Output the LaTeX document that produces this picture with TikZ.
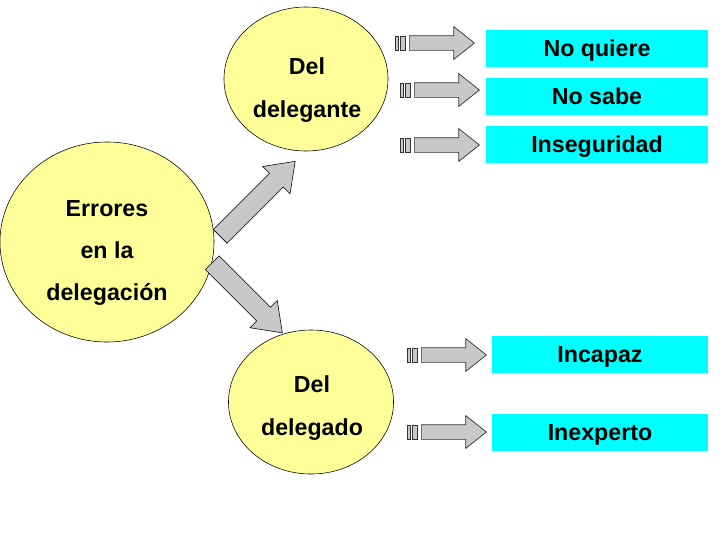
\documentclass[tikz,border=0pt]{standalone}
\usepackage{fontspec}
\setmainfont{Liberation Sans}
\usepackage{tikz}
\usetikzlibrary{positioning,shapes.geometric,shapes.arrows}
\definecolor{bubblefill}{HTML}{FFFF99}
\definecolor{reasonfill}{HTML}{00FFFF}
\definecolor{arrfill}{HTML}{C8C8C8}

\begin{document}
\begin{tikzpicture}[x=0.025cm, y=-0.025cm,
        bubble/.style={ellipse, draw=black, fill=bubblefill,
        line width=0.4pt, inner sep=0pt},
        bubbletext/.style={align=center, inner sep=0pt,
        font=\fontsize{16.5}{30}\selectfont\bfseries},
        reason/.style={rectangle, fill=reasonfill, minimum height=0.925cm,
          inner sep=0pt, text height=11.9pt, text depth=0pt,
        font=\fontsize{16.5}{19}\selectfont\bfseries},
        bigarr/.style={single arrow, draw=black, fill=arrfill,
          line width=0.4pt, inner xsep=0pt, inner ysep=0.2375cm,
          minimum width=0.95cm, single arrow head extend=0.2375cm,
        single arrow tip angle=72, anchor=tail},
        smallarr/.style={single arrow, draw=black!80, fill=arrfill,
          line width=0.5pt, inner xsep=0pt, inner ysep=0.175cm,
          minimum width=0.8cm, single arrow head extend=0.225cm,
        single arrow tip angle=77, minimum height=1.625cm, anchor=tail},
        barthick/.style={rectangle, draw=black!80, fill=arrfill,
        line width=0.5pt, inner sep=0pt, minimum width=0.125cm, minimum height=0.35cm},
        barthin/.style={barthick, minimum width=0.075cm},
      ]
      \useasboundingbox (0,0) rectangle (720,540);

      % =================== BUBBLES ===================
      \node[bubble, minimum width=5.35cm, minimum height=5cm] (errores) at (107,242) {};
      \node[bubbletext] (erroresTxt) at (107,253) {Errores\\en la\\delegación};

      \node[bubble, minimum width=4.1cm, minimum height=3.6cm] (delegante) at (306,79) {};
      \node[bubbletext] (deleganteTxt) at (307,90) {Del\\delegante};

      \node[bubble, minimum width=4.125cm, minimum height=3.6cm] (delegado) at (311,402) {};
      \node[bubbletext] (delegadoTxt) at (312,408) {Del\\delegado};

      % Big arrows out of the left bubble
      \node[bigarr, minimum height=2.65cm, rotate=45] (upArr) at (220,236.5) {};
      \node[bigarr, minimum height=2.48cm, rotate=-45] (downArr) at (212,262.5) {};

      % =================== REASONS ===================
      \node[reason, minimum width=5.55cm] (quiere) at (597,48.5) {No quiere};
      \node[reason, minimum width=5.55cm] (sabe) at (597,96.5) {No sabe};
      \node[reason, minimum width=5.55cm] (insegur) at (597,144.5) {Inseguridad};
      \node[reason, minimum width=5.4cm] (incapaz) at (600,354.5) {Incapaz};
      \node[reason, minimum width=5.4cm] (inexperto) at (600,432.5) {Inexperto};

      % Striped arrows pointing at the reasons
      \node[smallarr] (toQuiere) at (409,43) {};
      \node[barthick, left=0.075cm of toQuiere.tail] (toQuiereB) {};
      \node[barthin, left=0.035cm of toQuiereB] (toQuiereA) {};

      \node[smallarr] (toSabe) at (414,90) {};
      \node[barthick, left=0.075cm of toSabe.tail] (toSabeB) {};
      \node[barthin, left=0.035cm of toSabeB] (toSabeA) {};

      \node[smallarr] (toInsegur) at (414,145) {};
      \node[barthick, left=0.075cm of toInsegur.tail] (toInsegurB) {};
      \node[barthin, left=0.035cm of toInsegurB] (toInsegurA) {};

      \node[smallarr] (toIncapaz) at (421,355) {};
      \node[barthick, left=0.075cm of toIncapaz.tail] (toIncapazB) {};
      \node[barthin, left=0.035cm of toIncapazB] (toIncapazA) {};

      \node[smallarr] (toInexperto) at (421,432) {};
      \node[barthick, left=0.075cm of toInexperto.tail] (toInexpertoB) {};
      \node[barthin, left=0.035cm of toInexpertoB] (toInexpertoA) {};

    \end{tikzpicture}
\end{document}
